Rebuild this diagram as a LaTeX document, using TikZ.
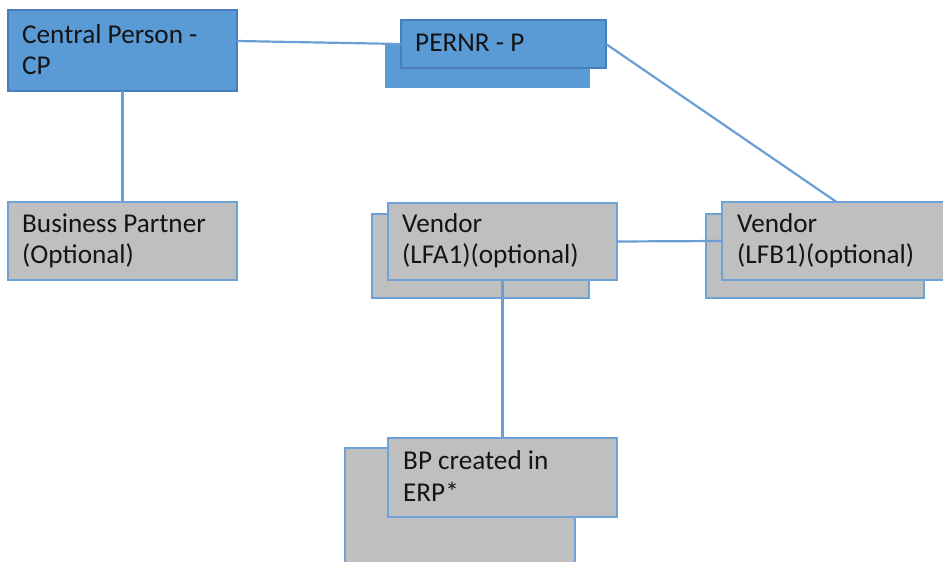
\documentclass[tikz,border=0pt]{standalone}
\usepackage{fontspec}
\setmainfont{Carlito}
\definecolor{boxblue}{HTML}{5B9BD5}
\definecolor{rimblue}{HTML}{4A7DC0}
\definecolor{boxgray}{HTML}{BFBFBF}
\definecolor{rimgray}{HTML}{6FA3D8}
\definecolor{linkblue}{HTML}{6A9FD6}
\begin{document}
\begin{tikzpicture}[x=1bp,y=-1bp,
  box/.style={rectangle, inner sep=0pt, outer sep=0pt, anchor=north west},
  bluebox/.style={box, fill=boxblue, draw=rimblue, line width=1.2bp},
  blueback/.style={box, fill=boxblue},
  graybox/.style={box, fill=boxgray, draw=rimgray, line width=1.5bp},
  % base anchor of a two-line label sits on its last line
  txt/.style={anchor=base west, align=left, inner sep=0pt,
    font=\fontsize{27.3}{32}\selectfont, text=black!92},
  link/.style={draw=linkblue, line width=2.2bp},
]
\useasboundingbox (0,0) rectangle (943,562);
\clip (0,0) rectangle (943,562);

% Central Person and Business Partner
\node[bluebox, minimum width=229bp, minimum height=81bp] (cp) at (8,10) {};
\node[graybox, minimum width=229bp, minimum height=78bp] (bpt) at (8,202) {};

% PERNR (stacked)
\node[blueback, minimum width=205bp, minimum height=45bp] (pernrB) at (385,43) {};
\node[bluebox, minimum width=205bp, minimum height=48bp] (pernr) at (401,20) {};

% Vendor LFA1 (stacked)
\node[graybox, minimum width=217bp, minimum height=84bp] (lfa1B) at (372,214) {};
\node[graybox, minimum width=229bp, minimum height=77bp] (lfa1) at (388,203) {};

% Vendor LFB1 (stacked)
\node[graybox, minimum width=218bp, minimum height=84bp] (lfb1B) at (706,214) {};
\node[graybox, minimum width=229bp, minimum height=78bp] (lfb1) at (722,202) {};

% BP created in ERP (stacked)
\node[graybox, minimum width=230bp, minimum height=130bp] (erpB) at (345,448) {};
\node[graybox, minimum width=229bp, minimum height=79bp] (erp) at (388,438) {};

% Labels
\node[txt] (tcp) at (22,75) {Central Person -\\CP};
\node[txt] (tpernr) at (415,52) {PERNR - P};
\node[txt] (tbpt) at (22,264) {Business Partner\\(Optional)};
\node[txt] (tlfa1) at (402,264) {Vendor\\(LFA1)(optional)};
\node[txt] (tlfb1) at (737,264) {Vendor\\(LFB1)(optional)};
\node[txt] (terp) at (403,501) {BP created in\\ERP*};

% Connectors
\draw[link] ([yshift=-31bp]cp.north east) -- (pernr.west);
\draw[link] (cp.south) -- (bpt.north);
\draw[link] (pernr.east) -- (lfb1.north);
\draw[link] (lfa1.east) -- (lfb1.west);
\draw[link] (lfa1.south) -- (erp.north);
\end{tikzpicture}
\end{document}
